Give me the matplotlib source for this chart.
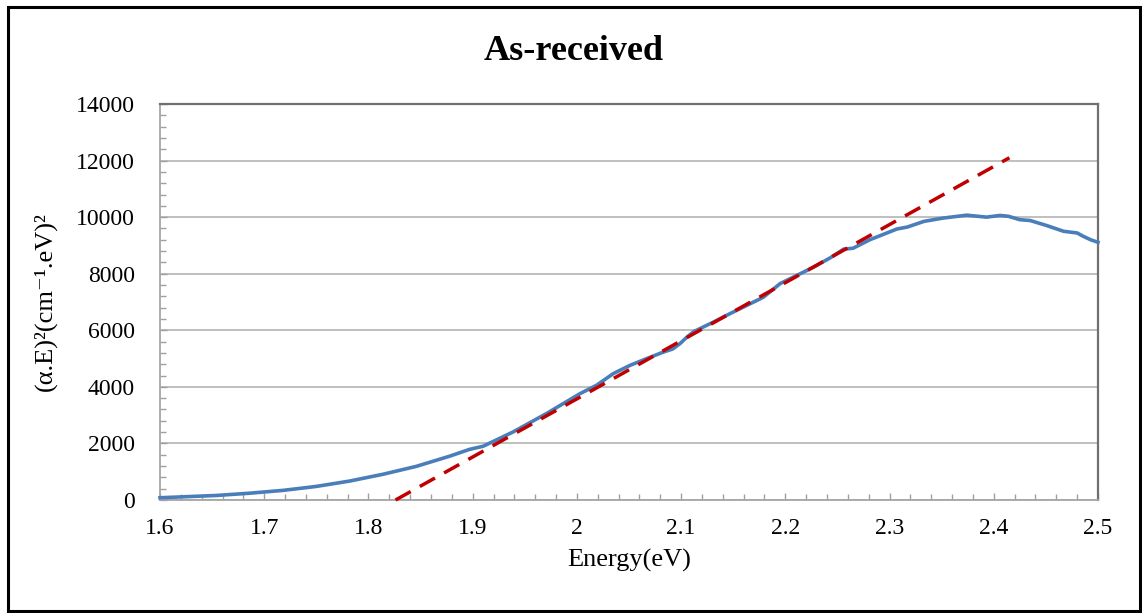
import matplotlib
matplotlib.use("Agg")
import matplotlib.pyplot as plt
from matplotlib.patches import Rectangle
from matplotlib.ticker import MultipleLocator

# Measured (alpha.E)^2 versus photon energy
energy = [1.600, 1.654, 1.686, 1.718, 1.750, 1.782, 1.814, 1.846, 1.878, 1.897,
          1.910, 1.926, 1.939, 1.971, 2.003, 2.019, 2.035, 2.051, 2.067, 2.083,
          2.092, 2.099, 2.105, 2.112, 2.131, 2.147, 2.163, 2.179, 2.195, 2.211,
          2.227, 2.243, 2.256, 2.265, 2.281, 2.307, 2.317, 2.333, 2.351, 2.374,
          2.393, 2.406, 2.414, 2.425, 2.435, 2.451, 2.467, 2.480, 2.486, 2.493,
          2.500]
alpha_e_sq = [80, 160, 240, 340, 480, 670, 910, 1190, 1550, 1790,
              1900, 2180, 2410, 3060, 3760, 4060, 4470, 4760, 5000, 5230,
              5340, 5530, 5740, 5950, 6290, 6590, 6880, 7170, 7650, 7940,
              8230, 8560, 8870, 8900, 9200, 9580, 9650, 9850, 9965, 10070,
              10000, 10060, 10030, 9910, 9880, 9700, 9500, 9440, 9320, 9200,
              9110]

# Linear extrapolation of the absorption edge (Tauc fit)
fit_energy = [1.826, 2.415]
fit_value = [0, 12100]

x_ticks = [1.6, 1.7, 1.8, 1.9, 2.0, 2.1, 2.2, 2.3, 2.4, 2.5]
x_tick_labels = ['1.6', '1.7', '1.8', '1.9', '2', '2.1', '2.2', '2.3', '2.4', '2.5']
y_ticks = [0, 2000, 4000, 6000, 8000, 10000, 12000, 14000]

plt.rcParams['font.family'] = ['Liberation Serif', 'DejaVu Serif']

fig = plt.figure(figsize=(11.42, 6.13), dpi=100)
ax = fig.add_axes([160 / 1142, 1 - 500 / 613, 938 / 1142, 396 / 613])

ax.plot(fit_energy, fit_value, color='#C00000', lw=2.5, dashes=(5, 3), zorder=4,
        clip_on=False)
ax.plot(energy, alpha_e_sq, color='#4A7EBB', lw=2.6, zorder=3, clip_on=False)

ax.set_xlim(1.6, 2.5)
ax.set_ylim(0, 14000)
ax.set_xticks(x_ticks)
ax.set_xticklabels(x_tick_labels)
ax.set_yticks(y_ticks)
ax.set_yticklabels([str(v) for v in y_ticks])
ax.xaxis.set_minor_locator(MultipleLocator(0.02))
ax.yaxis.set_minor_locator(MultipleLocator(400))

ax.grid(axis='y', which='major', color='#BFBFBF', lw=1.4)
ax.set_axisbelow(True)
ax.tick_params(which='both', direction='in', colors='#A0A0A0', labelcolor='black',
               labelsize=17)
ax.tick_params(which='major', length=5, width=1.0)
ax.tick_params(which='minor', length=4, width=1.0)
ax.tick_params(axis='x', pad=13)
ax.tick_params(axis='y', pad=18)
for side in ['left', 'bottom']:
    ax.spines[side].set_color('#A6A6A6')
    ax.spines[side].set_linewidth(1.3)
for side in ['top', 'right']:
    ax.spines[side].set_color('#707070')
    ax.spines[side].set_linewidth(1.6)

ax.set_xlabel('Energy(eV)', fontsize=19, labelpad=7)
ax.set_ylabel('(α.E)²(cm⁻¹.eV)²', fontsize=19, labelpad=14)
fig.text(574 / 1142, 1 - 51 / 613, 'As-received', fontsize=26, fontweight='bold',
         ha='center', va='center')

# Figure frame
fig.patches.append(Rectangle((8 / 1142, 2 / 613), 1132 / 1142, 604 / 613,
                             transform=fig.transFigure, fill=False,
                             edgecolor='black', lw=2.2))

fig.savefig('out.png', dpi=100)
